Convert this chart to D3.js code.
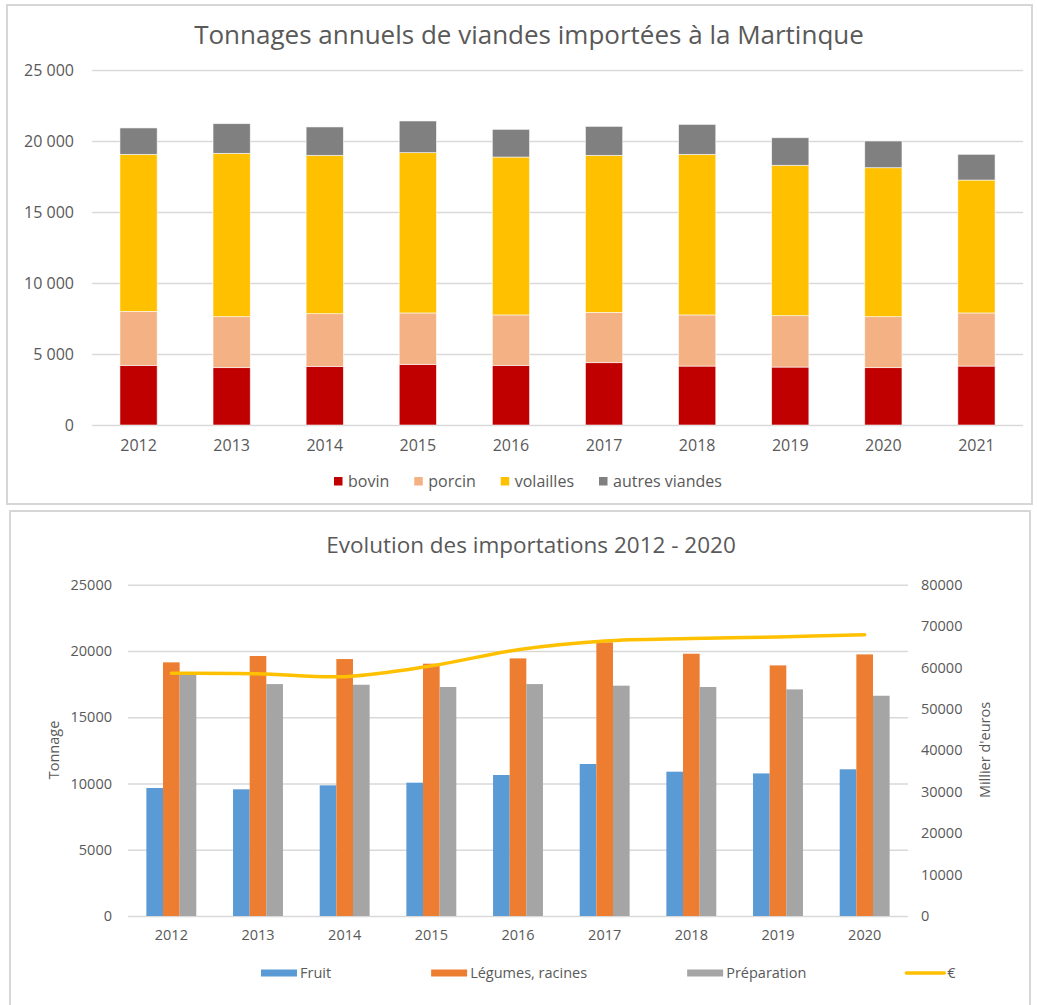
<!DOCTYPE html>
<html>
<head>
<meta charset="utf-8">
<script src="https://cdn.jsdelivr.net/npm/d3@7"></script>
<style>
  body { margin: 0; background: #fff; }
  svg { display: block; }
  text { font-family: "Open Sans", sans-serif; fill: #595959; }
</style>
</head>
<body>
<svg id="c" width="1037" height="1005"></svg>
<script>
// ---------- Chart 1 data ----------
const title1 = "Tonnages annuels de viandes importées à la Martinque";
const years1 = ["2012","2013","2014","2015","2016","2017","2018","2019","2020","2021"];
const bovin     = [4200, 4040, 4130, 4270, 4200, 4390, 4150, 4080, 4040, 4150];
const porcin    = [3800, 3590, 3710, 3620, 3550, 3540, 3600, 3620, 3590, 3740];
const volailles = [11060, 11500, 11150, 11290, 11120, 11060, 11310, 10590, 10490, 9360];
const autresViandes = [1860, 2090, 2000, 2230, 1950, 2040, 2110, 1940, 1880, 1810];
const meatNames  = ["bovin", "porcin", "volailles", "autres viandes"];
const meatColors = ["#C00000", "#F4B183", "#FFC000", "#808080"];
const yTicks1 = [0, 5000, 10000, 15000, 20000, 25000];

// ---------- Chart 2 data ----------
const title2 = "Evolution des importations 2012 - 2020";
const years2 = ["2012","2013","2014","2015","2016","2017","2018","2019","2020"];
const fruit       = [9660, 9560, 9860, 10060, 10640, 11470, 10890, 10760, 11070];
const legumes     = [19140, 19620, 19390, 19040, 19440, 20650, 19790, 18910, 19740];
const preparation = [18310, 17500, 17450, 17280, 17500, 17380, 17280, 17100, 16620];
const euros       = [58600, 58500, 57800, 60400, 64300, 66400, 67000, 67400, 67900];
const importNames  = ["Fruit", "Légumes, racines", "Préparation"];
const importColors = ["#5B9BD5", "#ED7D31", "#A5A5A5"];
const lineName = "€";
const lineColor = "#FFC000";
const yTicksL = [0, 5000, 10000, 15000, 20000, 25000];
const yTicksR = [0, 10000, 20000, 30000, 40000, 50000, 60000, 70000, 80000];
const axisTitleL = "Tonnage";
const axisTitleR = "Millier d'euros";

// ---------- Drawing ----------
const svg = d3.select("#c");
const frLocale = d3.formatLocale({decimal: ",", thousands: "\u00a0", grouping: [3], currency: ["", "€"]});
const fmtTop = frLocale.format(",d");
const gridColor = "#d9d9d9";

// panels
svg.append("rect").attr("x", 7).attr("y", 5).attr("width", 1025).attr("height", 499)
  .attr("fill", "#fff").attr("stroke", "#d6d6d6").attr("stroke-width", 2);
svg.append("rect").attr("x", 10).attr("y", 511).attr("width", 1020).attr("height", 520)
  .attr("fill", "#fff").attr("stroke", "#d6d6d6").attr("stroke-width", 2);

// ===== Chart 1 =====
const L1 = 92, R1 = 1023;
const x1 = d3.scaleBand().domain(years1).range([L1, R1]).paddingInner(0.6).paddingOuter(0.3);
const y1 = d3.scaleLinear().domain([0, 25000]).range([425, 70]);

svg.append("text").attr("x", 529).attr("y", 44).attr("text-anchor", "middle")
  .style("font-size", "26px").text(title1);

const ay1 = svg.append("g").attr("transform", `translate(${L1},0)`)
  .call(d3.axisLeft(y1).tickValues(yTicks1).tickFormat(fmtTop).tickSize(-(R1 - L1)).tickPadding(18));
ay1.select(".domain").remove();
ay1.selectAll("line").attr("stroke", gridColor).attr("stroke-width", 1.4);
ay1.selectAll("text").style("font-size", "16px").attr("fill", "#595959");

const ax1 = svg.append("g").attr("transform", "translate(0,425)")
  .call(d3.axisBottom(x1).tickSize(0).tickPadding(15));
ax1.select(".domain").remove();
ax1.selectAll("text").style("font-size", "16px").attr("fill", "#595959");

const meatRows = years1.map((y, i) => ({year: y, "bovin": bovin[i], "porcin": porcin[i], "volailles": volailles[i], "autres viandes": autresViandes[i]}));
const stacked = d3.stack().keys(meatNames)(meatRows);
svg.append("g").selectAll("g").data(stacked).join("g")
  .attr("fill", (d, i) => meatColors[i])
  .selectAll("rect").data(d => d).join("rect")
  .attr("x", d => x1(d.data.year))
  .attr("width", x1.bandwidth())
  .attr("y", d => y1(d[1]))
  .attr("height", d => y1(d[0]) - y1(d[1]))
  .attr("stroke", "#fff").attr("stroke-width", 0.8).attr("stroke-opacity", 0.7);

// legend 1
{
  const lg = svg.append("g");
  let cx = 334;
  meatNames.forEach((n, i) => {
    lg.append("rect").attr("x", cx).attr("y", 477).attr("width", 8.5).attr("height", 8.5).attr("fill", meatColors[i]);
    const t = lg.append("text").attr("x", cx + 14).attr("y", 481).attr("dy", "0.35em")
      .style("font-size", "16px").text(n);
    cx += 14 + t.node().getComputedTextLength() + 25;
  });
}

// ===== Chart 2 =====
const L2 = 128, R2 = 908;
const x2 = d3.scaleBand().domain(years2).range([L2, R2]).paddingInner(0.424).paddingOuter(0.212);
const xs = d3.scaleBand().domain(importNames).range([0, x2.bandwidth()]);
const yL = d3.scaleLinear().domain([0, 25000]).range([916, 584.7]);
const yR = d3.scaleLinear().domain([0, 80000]).range([916, 584.7]);

svg.append("text").attr("x", 531).attr("y", 553).attr("text-anchor", "middle")
  .style("font-size", "22.5px").text(title2);

const ayL = svg.append("g").attr("transform", `translate(${L2},0)`)
  .call(d3.axisLeft(yL).tickValues(yTicksL).tickFormat(d3.format("d")).tickSize(-(R2 - L2)).tickPadding(16));
ayL.select(".domain").remove();
ayL.selectAll("line").attr("stroke", gridColor).attr("stroke-width", 1.4);
ayL.selectAll("text").style("font-size", "14.5px").attr("fill", "#595959");

const ayR = svg.append("g").attr("transform", `translate(${R2},0)`)
  .call(d3.axisRight(yR).tickValues(yTicksR).tickFormat(d3.format("d")).tickSize(0).tickPadding(13));
ayR.select(".domain").remove();
ayR.selectAll("text").style("font-size", "14.5px").attr("fill", "#595959");

const ax2 = svg.append("g").attr("transform", "translate(0,916)")
  .call(d3.axisBottom(x2).tickSize(0).tickPadding(14));
ax2.select(".domain").remove();
ax2.selectAll("text").style("font-size", "14.5px").attr("fill", "#595959");

svg.append("text").attr("transform", "translate(54,750) rotate(-90)").attr("text-anchor", "middle")
  .attr("dy", "0.35em").style("font-size", "14.5px").text(axisTitleL);
svg.append("text").attr("transform", "translate(985,750) rotate(-90)").attr("text-anchor", "middle")
  .attr("dy", "0.35em").style("font-size", "14.5px").text(axisTitleR);

const importSeries = [fruit, legumes, preparation];
const groups = svg.append("g").selectAll("g").data(years2).join("g")
  .attr("transform", d => `translate(${x2(d)},0)`);
groups.selectAll("rect").data((d, i) => importNames.map((n, k) => ({name: n, value: importSeries[k][i], k})))
  .join("rect")
  .attr("x", d => xs(d.name))
  .attr("width", xs.bandwidth())
  .attr("y", d => yL(d.value))
  .attr("height", d => yL(0) - yL(d.value))
  .attr("fill", d => importColors[d.k]);

const line = d3.line()
  .x((d, i) => x2(years2[i]) + x2.bandwidth() / 2)
  .y(d => yR(d))
  .curve(d3.curveCatmullRom);
svg.append("path").datum(euros).attr("d", line).attr("fill", "none")
  .attr("stroke", lineColor).attr("stroke-width", 3.5).attr("stroke-linecap", "round");

// legend 2
{
  const lg = svg.append("g");
  let cx = 261;
  const yc = 973;
  importNames.forEach((n, i) => {
    lg.append("rect").attr("x", cx).attr("y", yc - 3.5).attr("width", 36).attr("height", 7).attr("fill", importColors[i]);
    const t = lg.append("text").attr("x", cx + 39).attr("y", yc).attr("dy", "0.35em")
      .style("font-size", "14.5px").text(n);
    cx += 39 + t.node().getComputedTextLength() + 100;
  });
  lg.append("line").attr("x1", cx).attr("x2", cx + 38).attr("y1", yc).attr("y2", yc)
    .attr("stroke", lineColor).attr("stroke-width", 3.5).attr("stroke-linecap", "round");
  lg.append("text").attr("x", cx + 41).attr("y", yc).attr("dy", "0.35em")
    .style("font-size", "14.5px").text(lineName);
}
</script>
</body>
</html>
